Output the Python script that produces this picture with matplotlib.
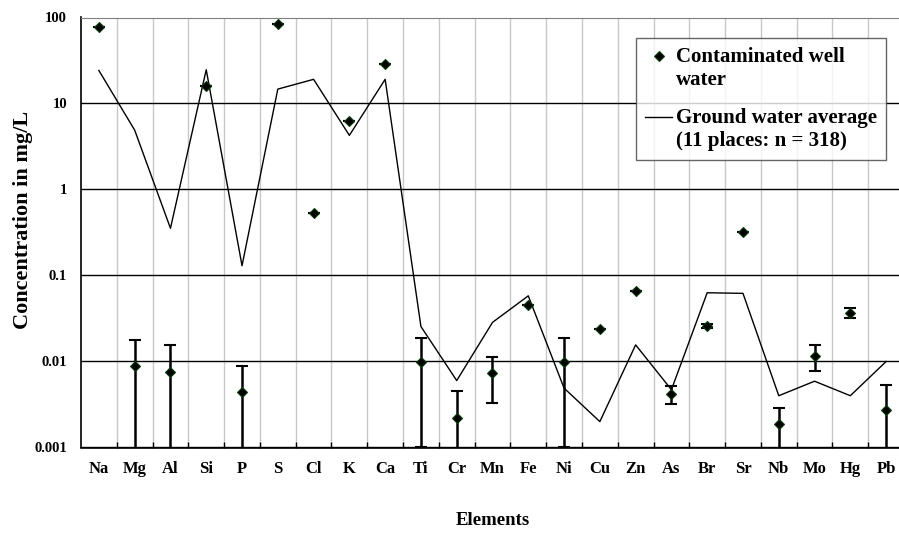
import matplotlib
matplotlib.use('Agg')
import matplotlib.pyplot as plt
import numpy as np

plt.rcParams['font.family'] = ['Liberation Serif', 'DejaVu Serif']
plt.rcParams['font.weight'] = 'bold'

elements = ['Na', 'Mg', 'Al', 'Si', 'P', 'S', 'Cl', 'K', 'Ca', 'Ti', 'Cr', 'Mn',
            'Fe', 'Ni', 'Cu', 'Zn', 'As', 'Br', 'Sr', 'Nb', 'Mo', 'Hg', 'Pb']

# contaminated well water (mg/L) and its error
well = [77, 0.0088, 0.0076, 15.8, 0.0044, 84, 0.53, 6.2, 29, 0.0099, 0.0022, 0.0073,
        0.045, 0.0099, 0.024, 0.066, 0.0042, 0.026, 0.32, 0.0019, 0.0117, 0.037, 0.0027]
well_err = [0, 0.009, 0.0078, 0, 0.0045, 0, 0, 0, 0, 0.0089, 0.0023, 0.004,
            0, 0.0089, 0, 0, 0.001, 0.0015, 0, 0.001, 0.004, 0.0048, 0.0027]

# ground water average (11 places, n = 318)
ground_avg = [24.2, 4.9, 0.354, 24.7, 0.13, 14.7, 19.1, 4.26, 19.1, 0.0255, 0.006, 0.0285,
              0.058, 0.0049, 0.002, 0.0156, 0.0047, 0.063, 0.062, 0.004, 0.0059, 0.004, 0.01]

x = np.arange(len(elements))

fig = plt.figure(figsize=(8.99, 5.33), dpi=100)
ax = fig.add_axes([81/899, 1 - 447.5/533, 823/899, 430/533])

ax.plot(x, ground_avg, color='black', lw=1.0, zorder=3,
        label='Ground water average\n(11 places: n = 318)')
ax.errorbar(x, well, yerr=well_err, fmt='none', ecolor='black', elinewidth=1.8,
            capsize=4.5, capthick=1.5, zorder=4)
ax.plot(x, well, ls='none', marker='D', ms=5.5, mfc='black', mec='#0b3d0b', mew=0.8,
        zorder=5, label='Contaminated well\nwater')

ax.set_yscale('log')
ax.set_ylim(0.001, 100)
ax.set_xlim(-0.5, len(elements) - 0.5)

ax.set_yticks([0.001, 0.01, 0.1, 1, 10, 100])
ax.set_yticklabels(['0.001', '0.01', '0.1', '1', '10', '100'], fontsize=10.5, fontweight='bold')
ax.yaxis.set_minor_locator(matplotlib.ticker.NullLocator())
ax.tick_params(axis='y', length=0, pad=10)

ax.set_xticks(x[:-1] + 0.5)
ax.set_xticklabels([])
ax.set_xticks(x, minor=True)
ax.set_xticklabels(elements, minor=True, fontsize=12, fontweight='bold')
ax.tick_params(axis='x', which='major', direction='in', length=4.5, width=1, color='black')
ax.tick_params(axis='x', which='minor', length=0, pad=10)

ax.grid(axis='x', which='major', color='#c8c8c8', lw=1.0, zorder=0)
ax.grid(axis='y', which='major', color='black', lw=1.0, zorder=1)
ax.set_axisbelow(True)

for side in ['left', 'bottom']:
    ax.spines[side].set_color('black')
    ax.spines[side].set_linewidth(1.2)
ax.spines['top'].set_color('#808080')
ax.spines['right'].set_visible(False)

ax.set_xlabel('Elements', fontsize=13.5, fontweight='bold', labelpad=25)
ax.set_ylabel('Concentration in mg/L', fontsize=16, fontweight='bold')
ax.yaxis.set_label_coords(-0.058, 0.53)

handles, labels = ax.get_legend_handles_labels()
leg = ax.legend(handles[::-1], labels[::-1], loc='upper left',
                bbox_to_anchor=(636/899, 1 - 38/533), bbox_transform=fig.transFigure,
                prop={'size': 15, 'weight': 'bold'}, frameon=True, fancybox=False,
                edgecolor='#404040', handlelength=1.3, handleheight=1.25,
                handletextpad=0.15, borderaxespad=0, labelspacing=0.85, borderpad=0.45)
leg.get_frame().set_linewidth(1.0)
# put each handle next to the first line of its label
for col in leg._legend_handle_box.get_children():
    for row in col.get_children():
        row.align = 'top'

fig.savefig('out.png', dpi=100)
